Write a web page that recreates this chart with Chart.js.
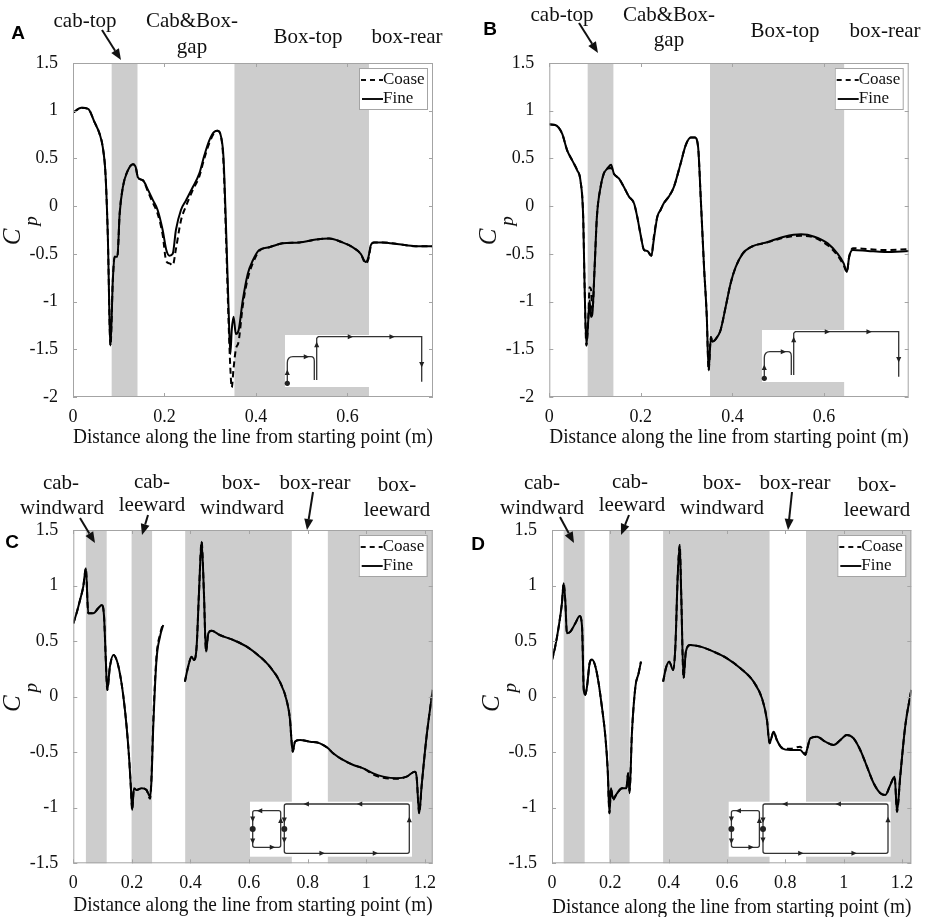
<!DOCTYPE html>
<html><head><meta charset="utf-8">
<script src="https://cdn.jsdelivr.net/npm/chart.js@4.4.1/dist/chart.umd.min.js"></script>
<style>
html,body{margin:0;padding:0;background:#fff;overflow:hidden;}
#wrap{position:relative;width:934px;height:917px;}
canvas{position:absolute;}
</style></head><body>
<div id="wrap">
<canvas id="cA" width="467" height="460" style="left:0px;top:0px"></canvas>
<canvas id="cB" width="467" height="460" style="left:467px;top:0px"></canvas>
<canvas id="cC" width="467" height="460" style="left:0px;top:460px"></canvas>
<canvas id="cD" width="467" height="460" style="left:467px;top:460px"></canvas>
</div>
<script>
// ---------- tick labels ----------
const xTicksTop = [0, 0.2, 0.4, 0.6];
const yTicksTop = [-2, -1.5, -1, -0.5, 0, 0.5, 1, 1.5];
const xTicksBottom = [0, 0.2, 0.4, 0.6, 0.8, 1, 1.2];
const yTicksBottom = [-1.5, -1, -0.5, 0, 0.5, 1, 1.5];
const xTitle = 'Distance along the line from starting point (m)';
const legendLabels = ['Coase', 'Fine'];

// ---------- panel A ----------
const aX = [0,0.018,0.033,0.047,0.058,0.065,0.071,0.076,0.082,0.087,0.091,0.097,0.102,0.109,0.12,0.131,0.137,0.142,0.153,0.164,0.175,0.185,0.196,0.204,0.211,0.218,0.225,0.236,0.247,0.262,0.276,0.287,0.298,0.309,0.316,0.324,0.329,0.335,0.34,0.344,0.347,0.351,0.356,0.362,0.371,0.382,0.393,0.407,0.429,0.458,0.495,0.531,0.56,0.589,0.611,0.629,0.64,0.646,0.651,0.658,0.676,0.713,0.749,0.787];
const aFine = [0.98,1.03,1.02,0.88,0.76,0.62,0.34,-0.29,-1.46,-0.78,-0.53,-0.53,-0.08,0.2,0.375,0.44,0.41,0.3,0.27,0.17,0.06,-0.04,-0.25,-0.46,-0.52,-0.5,-0.25,-0.04,0.06,0.2,0.34,0.53,0.69,0.78,0.79,0.72,0.51,-0.29,-1.06,-1.55,-1.3,-1.16,-1.34,-1.3,-0.99,-0.71,-0.57,-0.46,-0.43,-0.39,-0.38,-0.35,-0.34,-0.38,-0.43,-0.5,-0.585,-0.53,-0.41,-0.38,-0.38,-0.4,-0.42,-0.42];
const aCoase = [0.98,1.03,1.02,0.88,0.76,0.62,0.34,-0.29,-1.46,-0.78,-0.53,-0.53,-0.08,0.2,0.375,0.44,0.41,0.3,0.27,0.15,0.03,-0.08,-0.3,-0.58,-0.6,-0.62,-0.45,-0.15,0.0,0.17,0.31,0.5,0.66,0.77,0.79,0.72,0.45,-0.4,-1.2,-1.7,-1.9,-1.7,-1.5,-1.42,-1.05,-0.76,-0.6,-0.47,-0.43,-0.39,-0.38,-0.35,-0.34,-0.38,-0.43,-0.5,-0.6,-0.55,-0.42,-0.38,-0.38,-0.4,-0.42,-0.42];
const aBands = [[0.0845,0.141],[0.353,0.647]];

// ---------- panel B ----------
const bX = [0,0.013,0.028,0.039,0.05,0.061,0.068,0.074,0.077,0.081,0.085,0.088,0.091,0.094,0.099,0.104,0.112,0.119,0.126,0.135,0.141,0.152,0.163,0.174,0.185,0.192,0.199,0.207,0.214,0.223,0.228,0.236,0.243,0.25,0.261,0.272,0.287,0.298,0.309,0.318,0.325,0.331,0.338,0.344,0.348,0.353,0.356,0.364,0.374,0.385,0.396,0.407,0.422,0.44,0.477,0.513,0.55,0.579,0.608,0.63,0.643,0.65,0.655,0.663,0.696,0.732,0.787];
const bFine = [0.857,0.85,0.76,0.585,0.48,0.375,0.27,-0.11,-0.81,-1.46,-1.2,-0.99,-1.16,-1.13,-0.64,-0.11,0.2,0.34,0.39,0.435,0.34,0.29,0.2,0.1,0.03,-0.11,-0.29,-0.46,-0.47,-0.52,-0.36,-0.11,-0.04,0.03,0.1,0.2,0.45,0.64,0.72,0.72,0.62,0.06,-0.64,-1.16,-1.72,-1.37,-1.42,-1.39,-1.3,-1.06,-0.81,-0.64,-0.5,-0.43,-0.375,-0.32,-0.295,-0.32,-0.39,-0.5,-0.6,-0.69,-0.53,-0.46,-0.47,-0.48,-0.47];
const bCoase = [0.857,0.85,0.76,0.585,0.48,0.375,0.27,-0.11,-0.81,-1.46,-1.2,-0.85,-0.87,-1.1,-0.64,-0.11,0.2,0.34,0.39,0.4,0.34,0.29,0.2,0.1,0.03,-0.11,-0.29,-0.46,-0.47,-0.52,-0.33,-0.11,-0.04,0.03,0.1,0.2,0.45,0.64,0.72,0.72,0.62,0.06,-0.64,-1.16,-1.72,-1.37,-1.42,-1.39,-1.3,-1.06,-0.81,-0.64,-0.5,-0.43,-0.38,-0.33,-0.31,-0.33,-0.41,-0.52,-0.62,-0.69,-0.53,-0.44,-0.45,-0.46,-0.45];
const bBands = [[0.0838,0.140],[0.351,0.644]];

// ---------- panel C ----------
const cX = [0,0.011,0.023,0.034,0.043,0.051,0.068,0.085,0.097,0.105,0.111,0.116,0.125,0.137,0.148,0.159,0.171,0.182,0.191,0.197,0.201,0.207,0.216,0.233,0.25,0.262,0.267,0.273,0.284,0.296,0.307,0.345,0.381,0.392,0.404,0.412,0.421,0.429,0.438,0.446,0.453,0.461,0.472,0.5,0.546,0.592,0.637,0.671,0.705,0.728,0.74,0.744,0.749,0.757,0.774,0.808,0.842,0.87,0.887,0.921,0.956,0.99,1.024,1.058,1.104,1.138,1.166,1.172,1.181,1.189,1.206,1.227];
const cFine = [0.66,0.75,0.87,0.99,1.155,0.75,0.75,0.795,0.825,0.72,0.33,0.06,0.27,0.375,0.33,0.21,0.0,-0.27,-0.57,-0.84,-1.02,-0.825,-0.84,-0.825,-0.84,-0.9,-0.75,-0.27,0.33,0.54,0.645,null,0.135,0.27,0.36,0.33,0.45,0.93,1.395,0.93,0.405,0.57,0.594,0.555,0.51,0.45,0.36,0.27,0.135,-0.03,-0.21,-0.36,-0.495,-0.405,-0.39,-0.405,-0.42,-0.465,-0.51,-0.57,-0.615,-0.645,-0.69,-0.72,-0.735,-0.72,-0.675,-0.72,-1.05,-0.81,-0.36,0.06];
const cCoase = [0.66,0.75,0.87,0.99,1.155,0.75,0.75,0.795,0.825,0.72,0.33,0.06,0.27,0.375,0.33,0.21,0.0,-0.27,-0.57,-0.84,-1.02,-0.825,-0.84,-0.825,-0.84,-0.92,-0.72,-0.22,0.36,0.56,0.66,null,0.135,0.27,0.36,0.33,0.45,0.93,1.395,0.93,0.405,0.57,0.594,0.555,0.51,0.45,0.36,0.27,0.135,-0.03,-0.21,-0.36,-0.495,-0.405,-0.39,-0.405,-0.42,-0.465,-0.51,-0.57,-0.615,-0.645,-0.7,-0.73,-0.74,-0.72,-0.675,-0.72,-1.05,-0.81,-0.36,0.06];
const cBands = [[0.043,0.114],[0.199,0.269],[0.382,0.746],[0.869,1.227]];

// ---------- panel D ----------
const dX = [0,0.011,0.023,0.034,0.04,0.046,0.051,0.063,0.08,0.095,0.103,0.109,0.114,0.12,0.129,0.137,0.149,0.16,0.171,0.183,0.191,0.197,0.202,0.209,0.223,0.24,0.255,0.261,0.266,0.274,0.286,0.297,0.305,0.345,0.381,0.392,0.402,0.415,0.423,0.431,0.438,0.443,0.451,0.459,0.474,0.509,0.554,0.6,0.646,0.691,0.72,0.737,0.746,0.752,0.76,0.771,0.789,0.817,0.851,0.869,0.874,0.886,0.909,0.937,0.966,0.989,1.011,1.034,1.057,1.08,1.103,1.126,1.143,1.16,1.175,1.183,1.194,1.211,1.232];
const dFine = [0.33,0.45,0.63,0.84,1.02,0.84,0.57,0.585,0.66,0.725,0.63,0.06,0.015,0.09,0.3,0.335,0.27,0.12,-0.09,-0.36,-0.66,-1.05,-0.825,-0.915,-0.87,-0.825,-0.825,-0.69,-0.87,-0.33,0.09,0.21,0.315,null,0.135,0.27,0.315,0.24,0.45,1.08,1.365,0.93,0.165,0.405,0.465,0.45,0.405,0.345,0.255,0.135,-0.015,-0.21,-0.42,-0.375,-0.315,-0.39,-0.465,-0.48,-0.48,-0.525,-0.48,-0.375,-0.36,-0.405,-0.435,-0.39,-0.345,-0.375,-0.48,-0.63,-0.78,-0.87,-0.885,-0.795,-0.72,-1.035,-0.72,-0.27,0.06];
const dCoase = [0.33,0.45,0.63,0.84,1.02,0.84,0.57,0.585,0.66,0.725,0.63,0.06,0.015,0.09,0.3,0.335,0.27,0.12,-0.09,-0.36,-0.66,-1.05,-0.825,-0.93,-0.87,-0.825,-0.825,-0.69,-0.85,-0.33,0.09,0.21,0.315,null,0.135,0.27,0.315,0.24,0.45,1.08,1.365,0.93,0.165,0.405,0.465,0.45,0.405,0.345,0.255,0.135,-0.015,-0.21,-0.42,-0.375,-0.315,-0.39,-0.46,-0.47,-0.45,-0.52,-0.48,-0.375,-0.36,-0.405,-0.435,-0.39,-0.345,-0.375,-0.48,-0.63,-0.78,-0.87,-0.885,-0.795,-0.72,-1.035,-0.72,-0.27,0.06];
const dBands = [[0.040,0.112],[0.196,0.266],[0.381,0.746],[0.871,1.232]];

// ---------- drawing helpers ----------
const SERIF = "'Liberation Serif', 'Times New Roman', serif";
const SANS = "'Liberation Sans', Arial, sans-serif";

function tri(ctx, x, y, dir, s) {
  s = s || 3.2;
  ctx.beginPath();
  if (dir === 'up') { ctx.moveTo(x, y - s); ctx.lineTo(x - s*0.8, y + s*0.7); ctx.lineTo(x + s*0.8, y + s*0.7); }
  if (dir === 'down') { ctx.moveTo(x, y + s); ctx.lineTo(x - s*0.8, y - s*0.7); ctx.lineTo(x + s*0.8, y - s*0.7); }
  if (dir === 'right') { ctx.moveTo(x + s, y); ctx.lineTo(x - s*0.7, y - s*0.8); ctx.lineTo(x - s*0.7, y + s*0.8); }
  if (dir === 'left') { ctx.moveTo(x - s, y); ctx.lineTo(x + s*0.7, y - s*0.8); ctx.lineTo(x + s*0.7, y + s*0.8); }
  ctx.closePath(); ctx.fill();
}
function dot(ctx, x, y, r) { ctx.beginPath(); ctx.arc(x, y, r, 0, Math.PI*2); ctx.fill(); }

function insetTop(ctx, ox, oy) {
  ctx.fillStyle = '#fff'; ctx.fillRect(ox, oy, 140, 52);
  ctx.strokeStyle = '#333'; ctx.fillStyle = '#222'; ctx.lineWidth = 1.3;
  ctx.beginPath();
  ctx.moveTo(ox+2.3, oy+48); ctx.lineTo(ox+2.3, oy+28);
  ctx.quadraticCurveTo(ox+2.3, oy+21.7, ox+8, oy+21.7);
  ctx.lineTo(ox+26, oy+21.7);
  ctx.quadraticCurveTo(ox+29.3, oy+21.7, ox+29.3, oy+26);
  ctx.lineTo(ox+29.3, oy+45);
  ctx.moveTo(ox+31.7, oy+45); ctx.lineTo(ox+31.7, oy+3.3); ctx.lineTo(ox+33.3, oy+1.7);
  ctx.lineTo(ox+136.7, oy+1.7); ctx.lineTo(ox+136.7, oy+46.7);
  ctx.stroke();
  dot(ctx, ox+2.3, oy+48.3, 2.6);
  tri(ctx, ox+2.3, oy+37.7, 'up'); tri(ctx, ox+21, oy+21.7, 'right');
  tri(ctx, ox+31.7, oy+10, 'up'); tri(ctx, ox+65, oy+1.7, 'right');
  tri(ctx, ox+106.7, oy+1.7, 'right'); tri(ctx, ox+136.7, oy+29.3, 'down');
}
function insetSide(ctx, ox, oy) {
  ctx.fillStyle = '#fff'; ctx.fillRect(ox, oy, 162, 55);
  ctx.strokeStyle = '#333'; ctx.fillStyle = '#222'; ctx.lineWidth = 1.3;
  ctx.beginPath(); ctx.roundRect(ox+2.7, oy+9, 28, 36.6, 2); ctx.stroke();
  ctx.beginPath(); ctx.roundRect(ox+34.3, oy+2.3, 125, 49.3, 2); ctx.stroke();
  dot(ctx, ox+2.7, oy+27.3, 3); dot(ctx, ox+34.3, oy+27.3, 3);
  tri(ctx, ox+10, oy+9, 'left'); tri(ctx, ox+2.7, oy+17, 'down'); tri(ctx, ox+2.7, oy+39, 'down');
  tri(ctx, ox+22, oy+45.6, 'right'); tri(ctx, ox+30.7, oy+19, 'up');
  tri(ctx, ox+56.7, oy+2.3, 'left'); tri(ctx, ox+110, oy+2.3, 'left');
  tri(ctx, ox+34.3, oy+18, 'down'); tri(ctx, ox+34.3, oy+38, 'down');
  tri(ctx, ox+71.7, oy+51.6, 'right'); tri(ctx, ox+125, oy+51.6, 'right');
  tri(ctx, ox+159.3, oy+18.3, 'up');
}
function arrow(ctx, x1, y1, x2, y2) {
  const ang = Math.atan2(y2 - y1, x2 - x1), L = 11, w = 4.5;
  const bx = x2 - L*Math.cos(ang), by = y2 - L*Math.sin(ang);
  ctx.strokeStyle = '#111'; ctx.fillStyle = '#111'; ctx.lineWidth = 2;
  ctx.beginPath(); ctx.moveTo(x1, y1); ctx.lineTo(bx, by); ctx.stroke();
  ctx.beginPath(); ctx.moveTo(x2, y2);
  ctx.lineTo(bx + w*Math.sin(ang), by - w*Math.cos(ang));
  ctx.lineTo(bx - w*Math.sin(ang), by + w*Math.cos(ang));
  ctx.closePath(); ctx.fill();
}

const decor = {
  id: 'decor',
  beforeDatasetsDraw(chart, args, o) {
    const {ctx, chartArea: a, scales: {x}} = chart;
    ctx.save();
    ctx.fillStyle = '#cdcdcd';
    o.bands.forEach(b => {
      const x1 = x.getPixelForValue(b[0]), x2 = Math.min(x.getPixelForValue(b[1]), a.right);
      ctx.fillRect(x1, a.top, x2 - x1, a.bottom - a.top);
    });
    if (o.inset === 'top') insetTop(ctx, a.left + o.insetOff[0], a.top + o.insetOff[1]);
    else insetSide(ctx, a.left + o.insetOff[0], a.top + o.insetOff[1]);
    ctx.restore();
  },
  afterDraw(chart, args, o) {
    const {ctx, chartArea: a, scales: {x, y}} = chart;
    ctx.save();
    // box + inward ticks
    ctx.strokeStyle = '#a4a4a4'; ctx.lineWidth = 1;
    ctx.strokeRect(a.left + 0.5, a.top + 0.5, a.right - a.left - 1, a.bottom - a.top - 1);
    ctx.beginPath();
    x.ticks.forEach(t => { const px = Math.round(x.getPixelForValue(t.value)) + 0.5;
      ctx.moveTo(px, a.bottom); ctx.lineTo(px, a.bottom - 4); ctx.moveTo(px, a.top); ctx.lineTo(px, a.top + 4); });
    y.ticks.forEach(t => { const py = Math.round(y.getPixelForValue(t.value)) + 0.5;
      ctx.moveTo(a.left, py); ctx.lineTo(a.left + 4, py); ctx.moveTo(a.right, py); ctx.lineTo(a.right - 4, py); });
    ctx.stroke();
    // legend
    const lw = 68, lh = 41, lx = a.right - 6 - lw, ly = a.top + 5;
    ctx.fillStyle = '#fff'; ctx.fillRect(lx, ly, lw, lh);
    ctx.strokeStyle = '#a4a4a4'; ctx.strokeRect(lx + 0.5, ly + 0.5, lw, lh);
    ctx.strokeStyle = '#111'; ctx.lineWidth = 2;
    ctx.setLineDash([5, 4]);
    ctx.beginPath(); ctx.moveTo(lx + 2, ly + 12); ctx.lineTo(lx + 24, ly + 12); ctx.stroke();
    ctx.setLineDash([]);
    ctx.beginPath(); ctx.moveTo(lx + 3, ly + 31); ctx.lineTo(lx + 24, ly + 31); ctx.stroke();
    ctx.fillStyle = '#111'; ctx.font = '17px ' + SERIF; ctx.textAlign = 'left'; ctx.textBaseline = 'middle';
    ctx.fillText(legendLabels[0], lx + 24, ly + 12);
    ctx.fillText(legendLabels[1], lx + 24, ly + 31);
    // annotations
    ctx.font = '21px ' + SERIF; ctx.textAlign = 'center';
    o.texts.forEach(t => ctx.fillText(t[0], t[1], t[2]));
    o.arrows.forEach(r => arrow(ctx, r[0], r[1], r[2], r[3]));
    // panel letter
    ctx.fillStyle = '#000'; ctx.font = 'bold 19px ' + SANS;
    ctx.fillText(o.letter[0], o.letter[1], o.letter[2]);
    // Cp label
    const cy = (a.top + a.bottom) / 2;
    ctx.fillStyle = '#111';
    ctx.save(); ctx.translate(a.left - 60, cy + 7); ctx.rotate(-Math.PI/2);
    ctx.font = 'italic 25px ' + SERIF; ctx.fillText('C', 0, 0); ctx.restore();
    ctx.save(); ctx.translate(a.left - 41, cy - 9); ctx.rotate(-Math.PI/2);
    ctx.font = 'italic 19px ' + SERIF; ctx.fillText('p', 0, 0); ctx.restore();
    ctx.restore();
  }
};

function makePanel(p) {
  const W = 467, H = 460, a = p.area;
  const mk = (ys) => p.x.map((v, i) => ({x: v, y: ys[i]}));
  new Chart(document.getElementById(p.id), {
    type: 'line',
    data: { datasets: [
      { label: legendLabels[1], data: mk(p.fine), borderColor: '#000', borderWidth: 2, pointRadius: 0, cubicInterpolationMode: 'monotone', fill: false },
      { label: legendLabels[0], data: mk(p.coase), borderColor: '#000', borderWidth: 2, borderDash: [6, 4], pointRadius: 0, cubicInterpolationMode: 'monotone', fill: false }
    ]},
    options: {
      responsive: false, animation: false, devicePixelRatio: 1,
      layout: { padding: { left: 0, top: a.top, right: W - a.right, bottom: H - (p.titleY + 12.6) } },
      plugins: { legend: { display: false }, tooltip: { enabled: false }, decor: p.decor },
      scales: {
        x: { type: 'linear', min: 0, max: p.xMax,
          afterBuildTicks: s => { s.ticks = p.xTicks.map(v => ({value: v})); },
          afterFit: s => { s.height = p.titleY + 12.6 - a.bottom; },
          grid: { display: false }, border: { display: false },
          ticks: { font: { family: SERIF, size: 18 }, color: '#111', padding: 1, maxRotation: 0, autoSkip: false, callback: v => String(v) },
          title: { display: true, text: xTitle, font: { family: SERIF, size: 21 }, color: '#111', padding: 0 } },
        y: { type: 'linear', min: p.yMin, max: p.yMax,
          afterBuildTicks: s => { s.ticks = p.yTicks.map(v => ({value: v})); },
          afterFit: s => { s.width = a.left; },
          grid: { display: false }, border: { display: false },
          ticks: { font: { family: SERIF, size: 18 }, color: '#111', padding: 7, autoSkip: false, callback: v => String(v) } }
      }
    },
    plugins: [decor]
  });
}

makePanel({ id: 'cA', x: aX, fine: aFine, coase: aCoase, xMax: 0.787, yMin: -2, yMax: 1.5, xTicks: xTicksTop, yTicks: yTicksTop,
  area: { left: 73, right: 433, top: 63, bottom: 397 }, titleY: 437,
  decor: { bands: aBands, inset: 'top', insetOff: [212, 272],
    texts: [['cab-top',85,21],['Cab&Box-',192,21],['gap',192,47],['Box-top',308,37],['box-rear',407,37]],
    arrows: [[102,30,121,60]], letter: ['A',18,34] } });
makePanel({ id: 'cB', x: bX, fine: bFine, coase: bCoase, xMax: 0.785, yMin: -2, yMax: 1.5, xTicks: xTicksTop, yTicks: yTicksTop,
  area: { left: 82.3, right: 441.7, top: 63, bottom: 397 }, titleY: 437,
  decor: { bands: bBands, inset: 'top', insetOff: [212.7, 267],
    texts: [['cab-top',95,15],['Cab&Box-',202,15],['gap',202,40],['Box-top',318,31],['box-rear',418,31]],
    arrows: [[112,23,131,53]], letter: ['B',23,30] } });
makePanel({ id: 'cC', x: cX, fine: cFine, coase: cCoase, xMax: 1.227, yMin: -1.5, yMax: 1.5, xTicks: xTicksBottom, yTicks: yTicksBottom,
  area: { left: 73.3, right: 432.7, top: 70, bottom: 403.3 }, titleY: 445,
  decor: { bands: cBands, inset: 'side', insetOff: [176.7, 271.7],
    texts: [['cab-',61,23],['windward',62,48],['cab-',152,22],['leeward',152,45],['box-',241,23],['windward',242,48],['box-rear',315,23],['box-',397,25],['leeward',397,50]],
    arrows: [[80,58,95,83],[148,55,142,75],[313,32,307,70]], letter: ['C',12,83] } });
makePanel({ id: 'cD', x: dX, fine: dFine, coase: dCoase, xMax: 1.232, yMin: -1.5, yMax: 1.5, xTicks: xTicksBottom, yTicks: yTicksBottom,
  area: { left: 85, right: 444.3, top: 70, bottom: 403.3 }, titleY: 447,
  decor: { bands: dBands, inset: 'side', insetOff: [176.7, 271.7],
    texts: [['cab-',75,23],['windward',75,48],['cab-',163,22],['leeward',165,45],['box-',255,23],['windward',255,48],['box-rear',328,23],['box-',410,25],['leeward',410,50]],
    arrows: [[93,57,107,83],[162,55,154,75],[325,32,321,70]], letter: ['D',11,85] } });
</script>
</body></html>
